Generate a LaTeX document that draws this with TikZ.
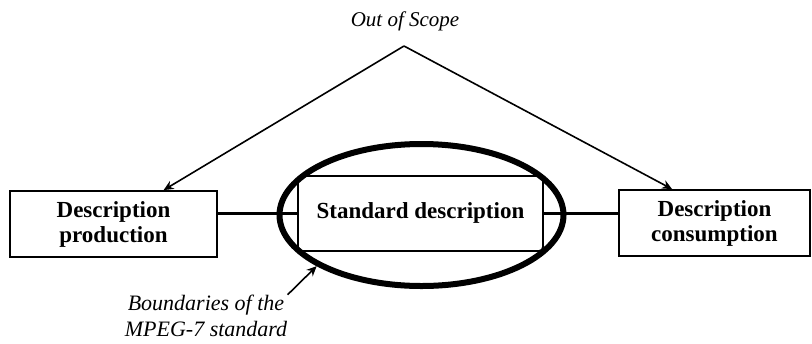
\documentclass[tikz,border=0pt]{standalone}
\usepackage{fontspec}
\setmainfont{Liberation Serif}
\usetikzlibrary{arrows.meta,calc,shapes.geometric}
\begin{document}
\begin{tikzpicture}[x=0.5pt,y=-0.5pt,
  every node/.style={inner sep=0pt},
  box/.style={draw,line width=0.9pt,align=center,font=\fontsize{11.5}{12.5}\selectfont\bfseries},
  note/.style={align=center,font=\fontsize{10.5}{13}\selectfont\itshape},
  link/.style={line width=1.6pt},
  tip/.style={-{Stealth[length=5pt,width=4.5pt]},line width=0.8pt}]
\useasboundingbox (0,0) rectangle (812,343);
\node[note] (scope) at (405,21) {Out of Scope};
\coordinate (apex) at (404,46);
\node[box,minimum width=103.5pt,minimum height=33pt] (prod) at (113.5,224) {Description\\production};
\node[box,rounded corners=2pt,minimum width=122.5pt,minimum height=37.5pt] (std) at (420.5,213.5) {\raisebox{2.5pt}{Standard description}};
\node[box,minimum width=95.5pt,minimum height=33pt] (cons) at (714.5,223) {Description\\consumption};
\node[ellipse,draw,line width=3pt,minimum width=142pt,minimum height=71pt] (bound) at (421.5,215) {};
\draw[link] (prod.east |- std.west) -- (std.west);
\draw[link] (std.east) -- (cons.west |- std.east);
\draw[tip] (apex) -- ($(prod.north west)!0.74!(prod.north east)$);
\draw[tip] (apex) -- ($(cons.north west)!0.28!(cons.north east)$);
\node[note,font=\fontsize{11}{13}\selectfont\itshape] (bnote) at (206,316) {Boundaries of the\\MPEG-7 standard};
\draw[tip] (bnote.north east) -- (bound.206);
\end{tikzpicture}
\end{document}
